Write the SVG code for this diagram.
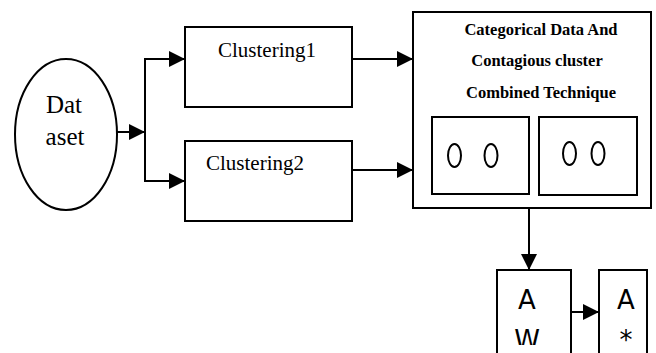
<svg xmlns="http://www.w3.org/2000/svg" width="656" height="353" viewBox="0 0 656 353">
<style>
.s{fill:none;stroke:#000;stroke-width:2}
.w{fill:#fff;stroke:#000;stroke-width:2}
.c{stroke:#000;stroke-width:2;fill:none}
.t{font-family:"Liberation Serif","Times New Roman",serif;fill:#000;text-anchor:middle}
.b{font-family:"Liberation Serif","Times New Roman",serif;font-weight:bold;font-size:16.5px;fill:#000;text-anchor:middle}
.d{font-family:"DejaVu Sans",sans-serif;font-size:26px;fill:#000;text-anchor:middle}
</style>
<defs>
<marker id="ah" viewBox="0 0 10 10" refX="10" refY="5" markerWidth="16" markerHeight="16" markerUnits="userSpaceOnUse" orient="auto">
<path d="M0,0 L10,5 L0,10 Z" fill="#000"/>
</marker>
<clipPath id="clipL"><rect x="497" y="270" width="74" height="75"/></clipPath>
<clipPath id="clipR"><rect x="599" y="270" width="48" height="75"/></clipPath>
</defs>
<g id="connectors">
<line class="c" x1="117" y1="132" x2="145" y2="132" marker-end="url(#ah)"/>
<polyline class="c" points="185,59 145,59 145,181 185,181"/>
<line class="c" x1="145" y1="59" x2="185" y2="59" marker-end="url(#ah)"/>
<line class="c" x1="145" y1="181" x2="185" y2="181" marker-end="url(#ah)"/>
<line class="c" x1="352" y1="59" x2="413" y2="59" marker-end="url(#ah)"/>
<line class="c" x1="352" y1="170" x2="413" y2="170" marker-end="url(#ah)"/>
<line class="c" x1="529" y1="208" x2="529" y2="270" marker-end="url(#ah)"/>
<line class="c" x1="571" y1="312" x2="599" y2="312" marker-end="url(#ah)"/>
</g>
<g id="dataset">
<ellipse class="w" cx="66" cy="134.5" rx="51" ry="75.5"/>
<text class="t" x="64" y="113" font-size="25">Dat</text>
<text class="t" x="65" y="145" font-size="25">aset</text>
</g>
<g id="clustering1">
<rect class="w" x="185" y="27" width="167" height="80"/>
<text class="t" x="267" y="57" font-size="21">Clustering1</text>
</g>
<g id="clustering2">
<rect class="w" x="185" y="141" width="167" height="80"/>
<text class="t" x="255" y="170" font-size="21">Clustering2</text>
</g>
<g id="combined">
<rect class="w" x="413" y="12" width="238" height="196"/>
<text class="b" x="541" y="35">Categorical Data And</text>
<text class="b" x="537" y="66">Contagious cluster</text>
<text class="b" x="541" y="98">Combined Technique</text>
<rect class="w" x="432" y="117" width="97" height="77"/>
<rect class="w" x="539" y="117" width="98" height="78"/>
<ellipse class="s" cx="454.5" cy="155.5" rx="6.5" ry="11.5"/>
<ellipse class="s" cx="491" cy="155.5" rx="6.5" ry="11.5"/>
<ellipse class="s" cx="569.5" cy="153.5" rx="6.5" ry="11.5"/>
<ellipse class="s" cx="598" cy="153.5" rx="6.5" ry="11.5"/>
</g>
<g id="boxAW">
<path class="s" d="M497,353 V270 H571 V353"/>
<g clip-path="url(#clipL)">
<text class="d" x="527" y="309">A</text>
<text class="d" x="527" y="349">W</text>
</g>
</g>
<g id="boxAstar">
<path class="s" d="M599,353 V270 H647 V353"/>
<g clip-path="url(#clipR)">
<text class="d" x="626" y="309">A</text>
<text class="d" x="626" y="349">*</text>
</g>
</g>
</svg>
